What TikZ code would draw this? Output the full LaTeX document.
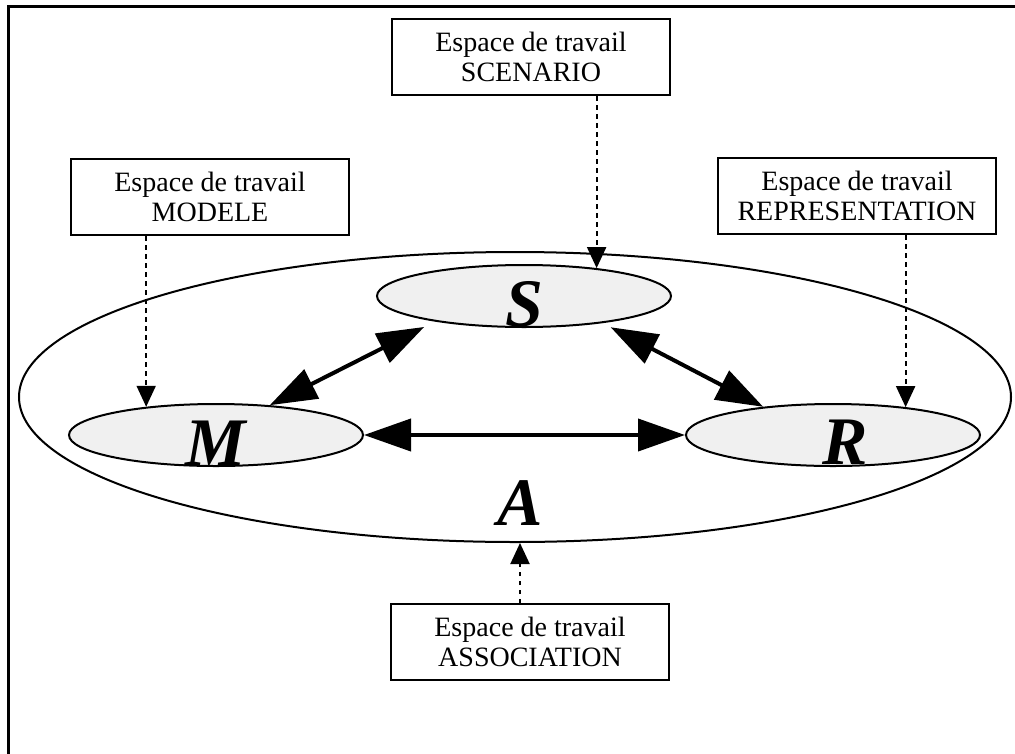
\documentclass[tikz,border=0pt]{standalone}
\usepackage{fontspec}
\setmainfont{Liberation Serif}
\usepackage{tikz}
\definecolor{ovalgray}{HTML}{F0F0F0}
\tikzset{ws node/.style={ellipse,draw,line width=2pt,fill=ovalgray,minimum width=294pt,minimum height=62pt,inner sep=0pt},
	ws box/.style={draw,line width=2pt,minimum width=278pt,minimum height=76pt,align=center,font=\fontsize{28}{30}\selectfont},
	ws letter/.style={anchor=base,inner sep=0pt,font=\fontsize{68}{68}\selectfont\bfseries\itshape},
	dot arrow/.style={line width=2pt,dash pattern=on 4.5pt off 4.5pt,-{Triangle[length=21pt,width=19pt]}},
	big arrow/.style={line width=4pt,{Triangle[length=47pt,width=32pt]}-{Triangle[length=47pt,width=32pt]}},
}
\usetikzlibrary{shapes.geometric,arrows.meta}

\begin{document}
\begin{tikzpicture}[x=1pt,y=-1pt]
	\useasboundingbox (0,0) rectangle (1015,753);
	
	%% frame
	\draw[line width=3pt] (8,760) -- (8,6) -- (1020,6);
	
	%% espace A
	\node[ellipse,draw,line width=2pt,minimum width=992pt,minimum height=290pt] (outer) at (515,397) {};
	\node[ws letter] (A) at (520,525) {A};
	
	%% espaces S, M, R
	\node[ws node] (S) at (524,296) {};
	\node[ws node] (M) at (216,435) {};
	\node[ws node] (R) at (833,435) {};
	\node[ws letter] (Sl) at ([yshift=2pt]S.south) {S};
	\node[ws letter] (Ml) at ([yshift=2pt]M.south) {M};
	\node[ws letter] (Rl) at ([xshift=12pt,yshift=3pt]R.south) {R};
	
	\path[big arrow]
	(M.29) edge[shorten >=12pt] (S.196)
	(S.-19) edge[shorten <=9pt] (R.158)
	(M.east) edge (R.west)
	;
	
	%% boites
	\node[ws box] (scen) at (531,57) {Espace de travail\\SCENARIO};
	\node[ws box] (modl) at (210,197) {Espace de travail\\MODELE};
	\node[ws box] (repr) at (857,196) {Espace de travail\\REPRESENTATION};
	\node[ws box] (assoc) at (530,642) {Espace de travail\\ASSOCIATION};
	
	\draw[dot arrow] (scen.south -| S.21) -- (S.21);
	\draw[dot arrow] (modl.south -| M.158) -- (M.158);
	\draw[dot arrow] (repr.south -| R.21) -- (R.21);
	\draw[dot arrow] (assoc.north -| A.south) -- (A.south |- outer.south);
\end{tikzpicture}
\end{document}
